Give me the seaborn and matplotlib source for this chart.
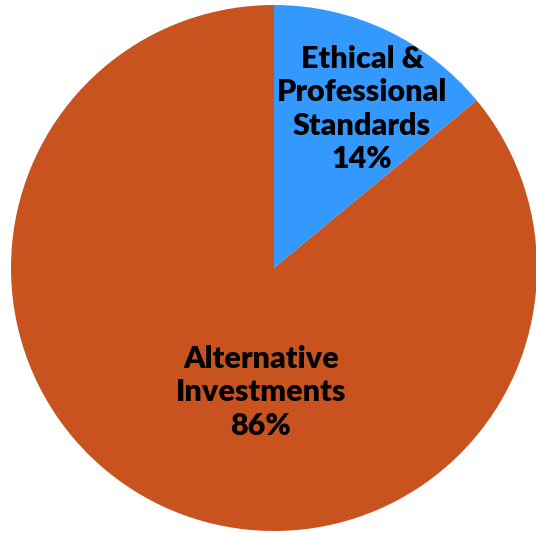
import matplotlib
matplotlib.use('Agg')
import matplotlib.pyplot as plt
import seaborn as sns

sns.set_theme(style='white')
plt.rcParams['font.family'] = ['Lato', 'DejaVu Sans']

# 数据
categories = ['Ethical &\nProfessional\nStandards', 'Alternative\nInvestments']
shares = [14, 86]
colors = ['#3399FF', '#C8531F']

fig = plt.figure(figsize=(5.36, 5.33), dpi=100)
ax = fig.add_axes([0, 0, 1, 1])

wedges, _ = ax.pie(shares, colors=colors, startangle=90, counterclock=False,
                   radius=1.0, wedgeprops=dict(linewidth=0))

# 标签位置
label_pos = [(0.335, 0.605), (-0.05, -0.472)]
for name, val, (x, y) in zip(categories, shares, label_pos):
    ax.text(x, y, '%s\n%d%%' % (name, val), ha='center', va='center',
            fontsize=22, fontweight='heavy', color='black', linespacing=1.24)

ax.set_xlim(-274 / 263, (536 - 274) / 263)
ax.set_ylim(-(533 - 268) / 263, 268 / 263)
ax.set_aspect('equal')
ax.axis('off')

fig.savefig('out.png', dpi=100)
